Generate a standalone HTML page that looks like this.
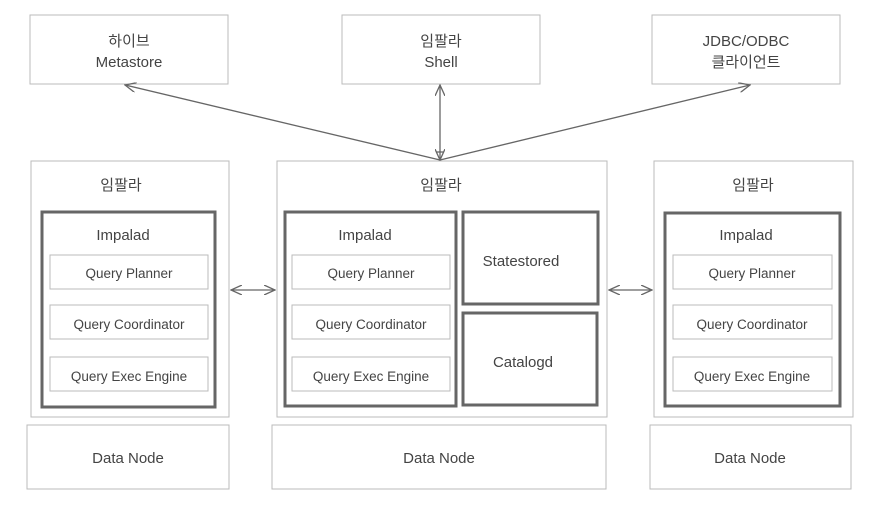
<!DOCTYPE html>
<html><head><meta charset="utf-8"><style>
body{margin:0;background:#fff;}
svg text{font-family:"Liberation Sans","Noto Sans CJK KR",sans-serif;fill:#444;text-anchor:middle;}
</style></head><body>
<svg width="870" height="500" xmlns="http://www.w3.org/2000/svg">
<defs><marker id="a" markerWidth="12" markerHeight="10" refX="11" refY="5" orient="auto-start-reverse" markerUnits="userSpaceOnUse"><path d="M0,0 L11,5 L0,10" fill="none" stroke="#666" stroke-width="1.3"/></marker></defs>
<g fill="none" stroke="#bbb" stroke-width="1">
<rect x="30" y="15" width="198" height="69"/>
<rect x="342" y="15" width="198" height="69"/>
<rect x="652" y="15" width="188" height="69"/>
<rect x="31" y="161" width="198" height="256"/>
<rect x="277" y="161" width="330" height="256"/>
<rect x="654" y="161" width="199" height="256"/>
<rect x="27" y="425" width="202" height="64"/>
<rect x="272" y="425" width="334" height="64"/>
<rect x="650" y="425" width="201" height="64"/>
<rect x="50" y="255" width="158" height="34"/><rect x="50" y="305" width="158" height="34"/><rect x="50" y="357" width="158" height="34"/>
<rect x="292" y="255" width="158" height="34"/><rect x="292" y="305" width="158" height="34"/><rect x="292" y="357" width="158" height="34"/>
<rect x="673" y="255" width="159" height="34"/><rect x="673" y="305" width="159" height="34"/><rect x="673" y="357" width="159" height="34"/>
</g>
<g fill="none" stroke="#666" stroke-width="3">
<rect x="42" y="212" width="173" height="195"/>
<rect x="285" y="212" width="171" height="194"/>
<rect x="463" y="212" width="135" height="92"/>
<rect x="463" y="313" width="134" height="92"/>
<rect x="665" y="213" width="175" height="193"/>
</g>
<g stroke="#666" stroke-width="1.3" fill="none">
<line x1="440" y1="160" x2="125" y2="85" marker-end="url(#a)"/>
<line x1="440" y1="160" x2="440" y2="85" marker-start="url(#a)" marker-end="url(#a)"/>
<line x1="440" y1="160" x2="750" y2="85" marker-end="url(#a)"/>
<line x1="436" y1="152" x2="444" y2="152"/>
<line x1="231" y1="290" x2="275" y2="290" marker-start="url(#a)" marker-end="url(#a)"/>
<line x1="609" y1="290" x2="652" y2="290" marker-start="url(#a)" marker-end="url(#a)"/>
</g>
<g font-size="15">
<text x="129" y="46">하이브</text><text x="129" y="67">Metastore</text>
<text x="441" y="46">임팔라</text><text x="441" y="67">Shell</text>
<text x="746" y="46">JDBC/ODBC</text><text x="746" y="67">클라이언트</text>
<text x="121" y="190">임팔라</text><text x="441" y="190">임팔라</text><text x="753" y="190">임팔라</text>
<text x="123" y="240">Impalad</text><text x="365" y="240">Impalad</text><text x="746" y="240">Impalad</text>
<text x="521" y="266">Statestored</text><text x="523" y="367">Catalogd</text>
<text x="128" y="463">Data Node</text><text x="439" y="463">Data Node</text><text x="750" y="463">Data Node</text>
</g>
<g font-size="13.5">
<text x="129" y="278">Query Planner</text><text x="129" y="329">Query Coordinator</text><text x="129" y="381">Query Exec Engine</text>
<text x="371" y="278">Query Planner</text><text x="371" y="329">Query Coordinator</text><text x="371" y="381">Query Exec Engine</text>
<text x="752" y="278">Query Planner</text><text x="752" y="329">Query Coordinator</text><text x="752" y="381">Query Exec Engine</text>
</g>
</svg>
</body></html>
